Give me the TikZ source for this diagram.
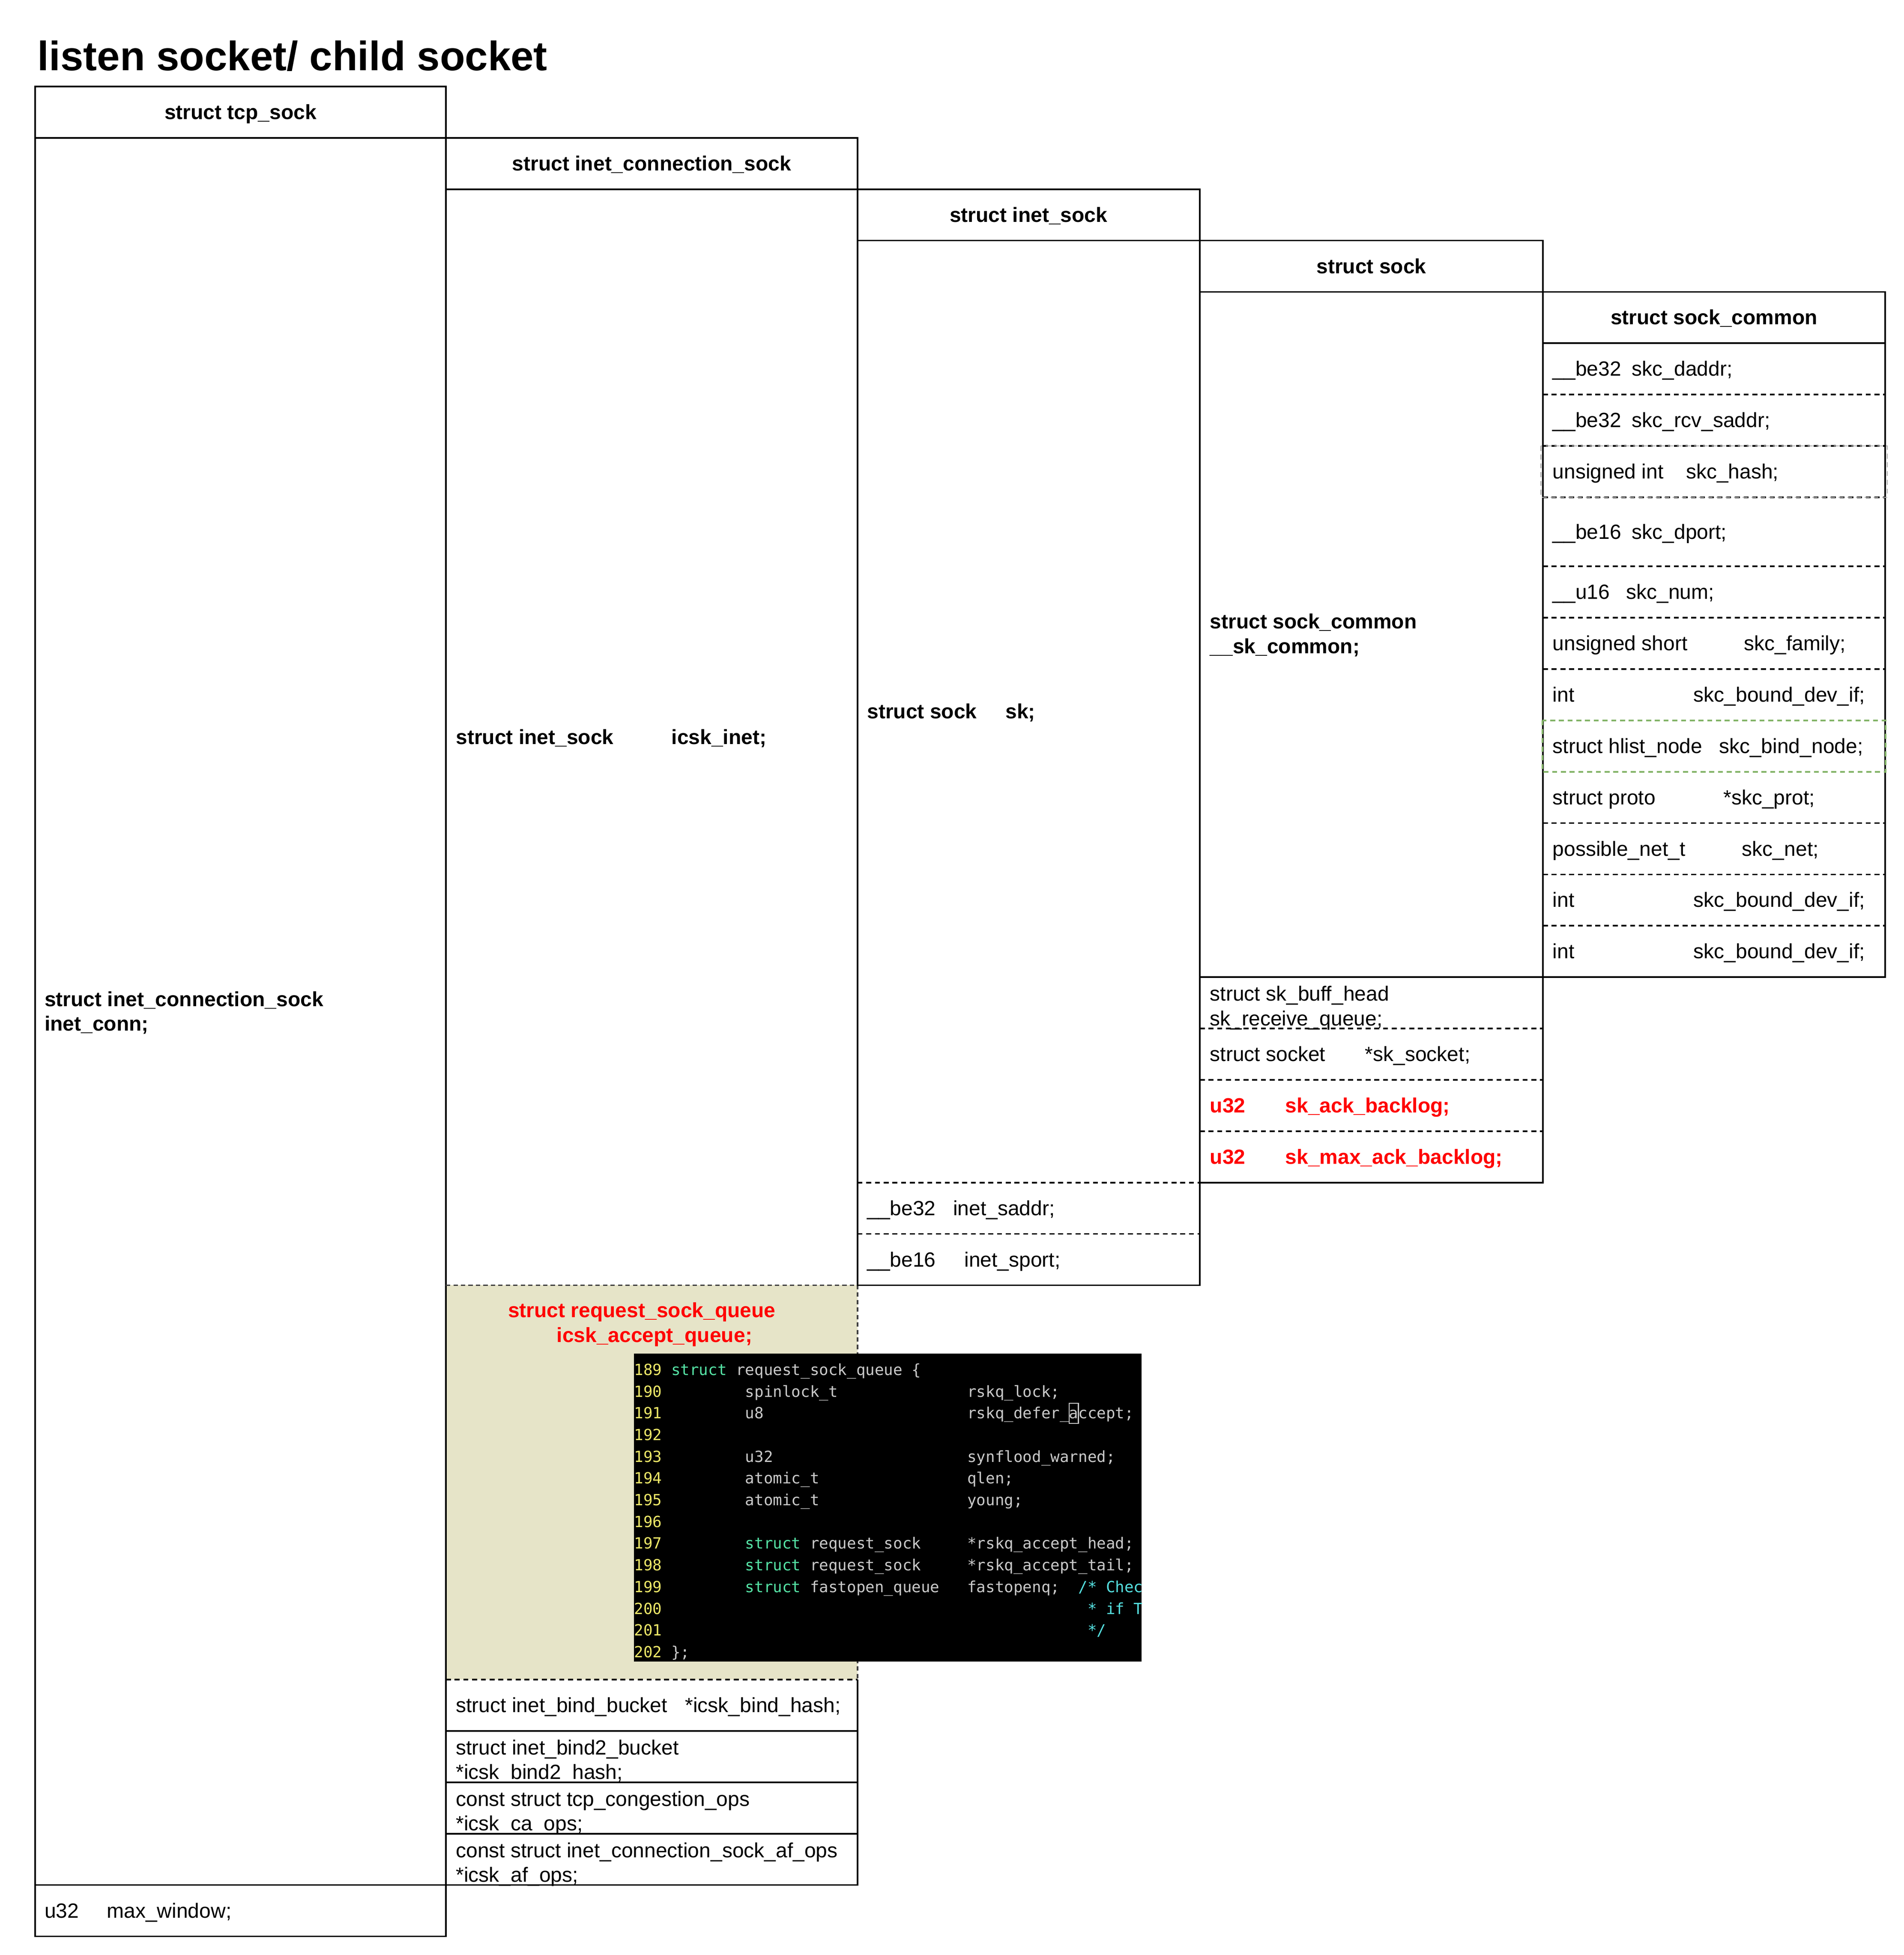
\documentclass[tikz,border=0pt]{standalone}
\usepackage{fontspec}
\setmainfont{Liberation Sans}
\newfontfamily\codefont{DejaVu Sans Mono}
\definecolor{beige}{HTML}{E6E4C8}
\definecolor{hlgreen}{HTML}{82B366}
\definecolor{lnum}{HTML}{EDE868}
\definecolor{kwc}{HTML}{55E3A5}
\definecolor{idc}{HTML}{CACACA}
\definecolor{cmt}{HTML}{55E0E0}
\definecolor{dkgray}{HTML}{404040}
\newlength\cw
\setlength\cw{7.423pt}
\newcommand\LN[1]{\textcolor{lnum}{#1}}
\newcommand\KW[1]{\textcolor{kwc}{#1}}
\newcommand\ID[1]{\textcolor{idc}{#1}}
\newcommand\CM[1]{\textcolor{cmt}{#1}}
\newcommand\Col[2]{\makebox[#1\cw][l]{#2}}
\frenchspacing
\tikzset{
  box/.style={draw=black, line width=1.3pt},
  sepline/.style={draw=black, line width=1.3pt, dash pattern=on 4pt off 3pt},
  lbl/.style={anchor=west, inner sep=0pt, yshift=-1.74pt, align=left,
    font=\fontsize{16.5}{19.8}\selectfont, execute at begin node=\strut},
  blbl/.style={lbl, font=\bfseries\fontsize{16.5}{19.8}\selectfont},
  rlbl/.style={blbl, text=red},
  hdr/.style={anchor=center, inner sep=0pt, yshift=-1.74pt,
    font=\bfseries\fontsize{16.5}{19.8}\selectfont, execute at begin node=\strut},
}
\begin{document}
\begin{tikzpicture}[x=1pt,y=-1pt]
\useasboundingbox (0,0) rectangle (1527.4,1568.6);

% title
\node[anchor=base west, inner sep=0pt, font=\bfseries\fontsize{33}{40}\selectfont] (title) at (30,56.6) {listen socket/ child socket};

% ---------- column 1 : tcp_sock ----------
\draw[box] (28.2,69.4) rectangle (357.8,1553.6);
\draw[box] (28.2,110.6) -- (357.8,110.6);
\draw[box] (28.2,1512.4) -- (357.8,1512.4);
\node[hdr] (tcph) at (193,90) {struct tcp\_sock};
\node[blbl] (inetconn) at (35.6,812.5) {struct inet\_connection\_sock\\\strut inet\_conn;};
\node[lbl] (maxwin) at (35.6,1533) {\makebox[50pt][l]{u32 }max\_window;};

% ---------- column 2 : inet_connection_sock ----------
\fill[beige] (357.8,1031.2) rectangle (688,1347.6);
\draw[box] (688,1031.2) -- (688,110.6) -- (357.8,110.6) -- (357.8,1512.4) -- (688,1512.4) -- (688,1347.6);
\draw[box] (357.8,151.8) -- (688,151.8);
\draw[draw=dkgray, line width=1.2pt, dash pattern=on 3.5pt off 2.5pt] (357.8,1031.2) -- (688,1031.2) -- (688,1347.6);
\draw[sepline] (357.8,1347.6) -- (688,1347.6);
\draw[box] (357.8,1388.8) -- (688,1388.8);
\draw[box] (357.8,1430.0) -- (688,1430.0);
\draw[box] (357.8,1471.2) -- (688,1471.2);
\node[hdr] (icskh) at (522.9,131.2) {struct inet\_connection\_sock};
\node[blbl] (icskinet) at (365.6,591.5) {\makebox[173pt][l]{struct inet\_sock }icsk\_inet;};
\node[rlbl] (acceptq) at (407.5,1062.2) {struct request\_sock\_queue\\\strut\hspace*{39pt}icsk\_accept\_queue;};
\node[lbl] (bindhash) at (365.6,1368.2) {\makebox[184pt][l]{struct inet\_bind\_bucket }*icsk\_bind\_hash;};
\node[lbl] (bind2hash) at (365.6,1413.0) {struct inet\_bind2\_bucket\\\strut *icsk\_bind2\_hash;};
\node[lbl] (caops) at (365.6,1454.2) {const struct tcp\_congestion\_ops\\\strut *icsk\_ca\_ops;};
\node[lbl] (afops) at (365.6,1495.4) {const struct inet\_connection\_sock\_af\_ops\\\strut *icsk\_af\_ops;};

% ---------- column 3 : inet_sock ----------
\draw[box] (688,151.8) rectangle (962.7,1031.2);
\draw[box] (688,193.0) -- (962.7,193.0);
\draw[sepline] (688,948.8) -- (962.7,948.8);
\draw[sepline] (688,990.0) -- (962.7,990.0);
\node[hdr] (inetsockh) at (825.3,172.4) {struct inet\_sock};
\node[blbl] (sk) at (695.6,570.9) {\makebox[111pt][l]{struct sock }sk;};
\node[lbl] (saddr) at (695.6,969.4) {\makebox[69pt][l]{\_\_be32 }inet\_saddr;};
\node[lbl] (sport) at (695.6,1010.6) {\makebox[78pt][l]{\_\_be16 }inet\_sport;};

% ---------- column 4 : sock ----------
\draw[box] (962.7,193.0) rectangle (1238,948.8);
\draw[box] (962.7,234.2) -- (1238,234.2);
\draw[box] (962.7,784.0) -- (1238,784.0);
\draw[sepline] (962.7,825.2) -- (1238,825.2);
\draw[sepline] (962.7,866.4) -- (1238,866.4);
\draw[sepline] (962.7,907.6) -- (1238,907.6);
\node[hdr] (sockh) at (1100.3,213.6) {struct sock};
\node[blbl] (skcommon) at (970.6,509.6) {struct sock\_common\\\strut \_\_sk\_common;};
\node[lbl] (rcvq) at (970.6,808.2) {struct sk\_buff\_head\\\strut sk\_receive\_queue;};
\node[lbl] (sksocket) at (970.6,845.8) {\makebox[124.5pt][l]{struct socket }*sk\_socket;};
\node[rlbl] (ackb) at (970.6,887) {\makebox[60.5pt][l]{u32 }sk\_ack\_backlog;};
\node[rlbl] (maxackb) at (970.6,928.2) {\makebox[60.5pt][l]{u32 }sk\_max\_ack\_backlog;};

% ---------- column 5 : sock_common ----------
\draw[box] (1238,234.2) rectangle (1512.6,784.0);
\draw[box] (1238,275.4) -- (1512.6,275.4);
\foreach \yy in {316.6,357.8,399.0,454.4,495.6,536.8,660.4,701.6,742.8}
  \draw[sepline] (1238,\yy) -- (1512.6,\yy);
\draw[draw=gray!60, line width=0.8pt, dash pattern=on 4pt off 3pt] (1236.4,357.8) rectangle (1514.2,399.0);
\draw[draw=hlgreen, line width=1.3pt, dash pattern=on 4pt off 3pt] (1237.6,578.0) rectangle (1513.0,619.2);
\node[hdr] (skch) at (1375.3,254.8) {struct sock\_common};
\node[lbl] (daddr) at (1245.6,296.0) {\makebox[63.6pt][l]{\_\_be32 }skc\_daddr;};
\node[lbl] (rcvsaddr) at (1245.6,337.2) {\makebox[63.6pt][l]{\_\_be32 }skc\_rcv\_saddr;};
\node[lbl] (hash) at (1245.6,378.4) {\makebox[107pt][l]{unsigned int }skc\_hash;};
\node[lbl] (dport) at (1245.6,426.7) {\makebox[63.6pt][l]{\_\_be16 }skc\_dport;};
\node[lbl] (num) at (1245.6,475.0) {\makebox[59pt][l]{\_\_u16 }skc\_num;};
\node[lbl] (family) at (1245.6,516.2) {\makebox[153.5pt][l]{unsigned short }skc\_family;};
\node[lbl] (bound1) at (1245.6,557.4) {\makebox[113pt][l]{int }skc\_bound\_dev\_if;};
\node[lbl] (bindnode) at (1245.6,598.6) {\makebox[133.5pt][l]{struct hlist\_node }skc\_bind\_node;};
\node[lbl] (prot) at (1245.6,639.8) {\makebox[137pt][l]{struct proto }*skc\_prot;};
\node[lbl] (net) at (1245.6,681.0) {\makebox[152pt][l]{possible\_net\_t }skc\_net;};
\node[lbl] (bound2) at (1245.6,722.2) {\makebox[113pt][l]{int }skc\_bound\_dev\_if;};
\node[lbl] (bound3) at (1245.6,763.4) {\makebox[113pt][l]{int }skc\_bound\_dev\_if;};

% ---------- code screenshot ----------
\fill[black] (508.7,1086) rectangle (916,1333);
\begin{scope}
\clip (508.7,1086) rectangle (916,1333);
\node[anchor=north west, inner sep=0pt, align=left,
      font=\codefont\fontsize{12.33}{17.42}\selectfont] (code) at (508.7,1091.0) {%
\strut\Col{4}{\LN{189}}\Col{7}{\KW{struct}}\ID{request\_sock\_queue \{}\\
\strut\Col{12}{\LN{190}}\Col{24}{\ID{spinlock\_t}}\ID{rskq\_lock;}\\
\strut\Col{12}{\LN{191}}\Col{24}{\ID{u8}}\ID{rskq\_defer\_accept;}\\
\strut\LN{192}\\
\strut\Col{12}{\LN{193}}\Col{24}{\ID{u32}}\ID{synflood\_warned;}\\
\strut\Col{12}{\LN{194}}\Col{24}{\ID{atomic\_t}}\ID{qlen;}\\
\strut\Col{12}{\LN{195}}\Col{24}{\ID{atomic\_t}}\ID{young;}\\
\strut\LN{196}\\
\strut\Col{12}{\LN{197}}\Col{7}{\KW{struct}}\Col{17}{\ID{request\_sock}}\ID{*rskq\_accept\_head;}\\
\strut\Col{12}{\LN{198}}\Col{7}{\KW{struct}}\Col{17}{\ID{request\_sock}}\ID{*rskq\_accept\_tail;}\\
\strut\Col{12}{\LN{199}}\Col{7}{\KW{struct}}\Col{17}{\ID{fastopen\_queue}}\Col{12}{\ID{fastopenq;}}\CM{/* Chec}\\
\strut\Col{49}{\LN{200}}\CM{* if T}\\
\strut\Col{49}{\LN{201}}\CM{*/}\\
\strut\Col{4}{\LN{202}}\ID{\};}};
\end{scope}
\draw[draw=idc, line width=0.8pt] (857.8,1126) rectangle (865.2,1142);

\end{tikzpicture}
\end{document}
